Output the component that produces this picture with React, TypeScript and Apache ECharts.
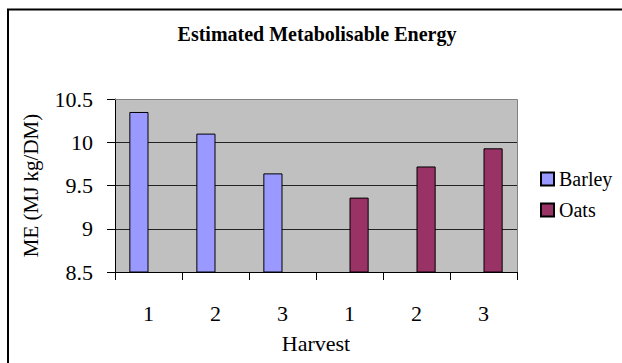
import React, { useEffect, useRef } from "react";
import * as echarts from "echarts";

// Harvest number within each crop
const categories = ["1", "2", "3", "1", "2", "3"];
// Estimated ME (MJ kg/DM); null where the other crop occupies the slot
const barley = [10.35, 10.1, 9.64, null, null, null];
const oats = [null, null, null, 9.36, 9.72, 9.93];
const yTicks = [8.5, 9, 9.5, 10, 10.5];

const FONT = "'Liberation Serif', 'Times New Roman', Times, serif";

const serif = (size: number, weight: string = "normal") => ({
  fontFamily: FONT,
  fontSize: size,
  fontWeight: weight,
  fontStyle: "normal",
  color: "#000",
});

export default function App() {
  const ref = useRef<HTMLDivElement>(null);

  useEffect(() => {
    if (!ref.current) return;
    const chart = echarts.init(ref.current, null, { renderer: "svg" });
    chart.setOption({
      animation: false,
      backgroundColor: "#ffffff",
      textStyle: serif(20),
      graphic: [
        {
          type: "rect",
          shape: { x: 8, y: 9.5, width: 700, height: 500 },
          style: { fill: "none", stroke: "#000", lineWidth: 2 },
          silent: true,
        },
        {
          type: "text",
          x: 317,
          y: 34,
          style: {
            text: "Estimated Metabolisable Energy",
            fontFamily: FONT,
            fontWeight: "bold",
            fontSize: 20,
            fill: "#000",
            textAlign: "center",
            textVerticalAlign: "middle",
          },
        },
        {
          // plot-area frame on the top and right
          type: "polyline",
          shape: { points: [[115, 99.5], [517.5, 99.5], [517.5, 272]] },
          style: { fill: "none", stroke: "#808080", lineWidth: 1 },
          z: 5,
          silent: true,
        },
      ],
      legend: {
        orient: "vertical",
        left: 535,
        top: 164,
        itemWidth: 13,
        itemHeight: 13,
        itemGap: 11,
        icon: "rect",
        textStyle: serif(20),
        data: ["Barley", "Oats"],
      },
      grid: {
        left: 115,
        top: 99,
        right: 105,
        bottom: 91,
        show: true,
        backgroundColor: "#C0C0C0",
        borderWidth: 0,
      },
      xAxis: {
        type: "category",
        data: categories,
        name: "Harvest",
        nameLocation: "middle",
        nameGap: 60,
        nameTextStyle: serif(22),
        axisLine: { lineStyle: { color: "#000", width: 1 } },
        axisTick: { show: true, length: 8, inside: false, lineStyle: { color: "#000" } },
        axisLabel: { ...serif(22), margin: 30 },
      },
      yAxis: {
        type: "value",
        min: yTicks[0],
        max: yTicks[yTicks.length - 1],
        interval: 0.5,
        name: "ME (MJ kg/DM)",
        nameLocation: "middle",
        nameRotate: 90,
        nameGap: 74,
        nameTextStyle: serif(21),
        axisLine: { show: true, lineStyle: { color: "#000", width: 1 } },
        axisTick: { show: true, length: 8, inside: false, lineStyle: { color: "#000" } },
        axisLabel: {
          ...serif(22),
          margin: 22,
          formatter: (v: number) => String(v),
        },
        splitLine: { show: true, lineStyle: { color: "#222", width: 1 } },
      },
      series: [
        {
          name: "Barley",
          type: "bar",
          data: barley,
          barGap: "0%",
          barCategoryGap: "42.86%",
          itemStyle: { color: "#9999FF", borderColor: "#000", borderWidth: 1 },
        },
        {
          name: "Oats",
          type: "bar",
          data: oats,
          barGap: "0%",
          barCategoryGap: "42.86%",
          itemStyle: { color: "#993366", borderColor: "#000", borderWidth: 1 },
        },
      ],
    });
    return () => chart.dispose();
  }, []);

  return (
    <div
      ref={ref}
      style={{ position: "absolute", left: 0, top: 0, width: 622, height: 363 }}
    />
  );
}
